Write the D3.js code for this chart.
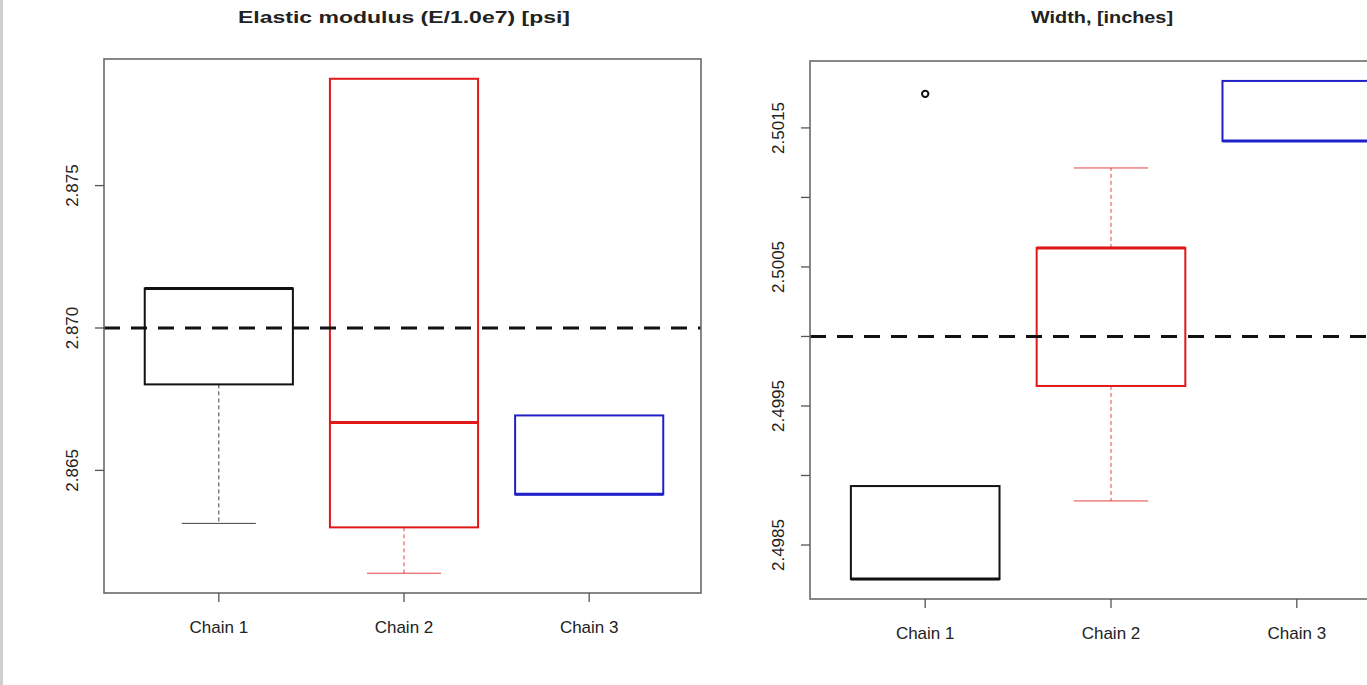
<!DOCTYPE html>
<html>
<head>
<meta charset="utf-8">
<script src="https://cdn.jsdelivr.net/npm/d3@7/dist/d3.min.js"></script>
<style>
  html, body { margin: 0; padding: 0; background: #ffffff; }
  svg { display: block; }
  text { font-family: "Liberation Sans", Arial, Helvetica, sans-serif; fill: #222; }
</style>
</head>
<body>
<svg id="chart" width="1367" height="685"></svg>
<script>
// ---- Data ----
const chains = ["Chain 1", "Chain 2", "Chain 3"];
const chainColors = ["#111111", "#e01818", "#2020c8"];

// Elastic modulus (E/1.0e7) [psi]
const modulusLow    = [2.86314, 2.86139, 2.86416];
const modulusQ1     = [2.86802, 2.86300, 2.86416];
const modulusMedian = [2.87139, 2.86668, 2.86416];
const modulusQ3     = [2.87139, 2.87875, 2.86693];
const modulusHigh   = [2.87139, 2.87875, 2.86693];
const modulusOutlierChain = [];
const modulusOutlierValue = [];
const modulusRef = 2.870;
const modulusTicks = [2.865, 2.870, 2.875];
const modulusTickLabels = ["2.865", "2.870", "2.875"];

// Width, [inches]
const widthLow    = [2.498255, 2.498817, 2.501406];
const widthQ1     = [2.498255, 2.499644, 2.501406];
const widthMedian = [2.498255, 2.500637, 2.501406];
const widthQ3     = [2.498924, 2.500637, 2.501838];
const widthHigh   = [2.498924, 2.501212, 2.501838];
const widthOutlierChain = ["Chain 1"];
const widthOutlierValue = [2.501745];
const widthRef = 2.5000;
const widthTicks = [2.4985, 2.4990, 2.4995, 2.5000, 2.5005, 2.5010, 2.5015];
const widthTickLabels = ["2.4985", "", "2.4995", "", "2.5005", "", "2.5015"];

const svg = d3.select("#chart");

// faint frame line at far left
svg.append("line").attr("x1", 1.5).attr("x2", 1.5).attr("y1", 0).attr("y2", 685)
  .attr("stroke", "#cfcfcf").attr("stroke-width", 3);

function panel(opts) {
  const { left, right, xRight, top, bottom, title, titleX, titleLen, low, q1, med, q3, high,
          outChain, outVal, ref, ticks, tickLabels } = opts;
  const g = svg.append("g");

  // x: R-style positions 1..n, xlim (0.5, n+0.5) extended by 4%
  const n = chains.length;
  const xr = n;
  const x = d3.scaleLinear()
    .domain([0.5 - 0.04 * xr, n + 0.5 + 0.04 * xr])
    .range([left, xRight]);

  // y: data extent padded by 4%
  const all = [].concat(low, high, outVal);
  const lo = d3.min(all), hi = d3.max(all);
  const pad = (hi - lo) * 0.04;
  const y = d3.scaleLinear().domain([lo - pad, hi + pad]).range([bottom, top]);

  const boxW = (x(1.4) - x(1));
  const capW = boxW * 0.5;

  chains.forEach((c, i) => {
    const cx = x(i + 1);
    const col = chainColors[i];
    if (low[i] < q1[i]) {
      g.append("line").attr("x1", cx).attr("x2", cx)
        .attr("y1", y(q1[i])).attr("y2", y(low[i]))
        .attr("stroke", col).attr("stroke-width", 1).attr("stroke-dasharray", "4,3").attr("opacity", 0.8);
      g.append("line").attr("x1", cx - capW).attr("x2", cx + capW)
        .attr("y1", y(low[i])).attr("y2", y(low[i]))
        .attr("stroke", col).attr("stroke-width", 1).attr("opacity", 0.8);
    }
    if (high[i] > q3[i]) {
      g.append("line").attr("x1", cx).attr("x2", cx)
        .attr("y1", y(q3[i])).attr("y2", y(high[i]))
        .attr("stroke", col).attr("stroke-width", 1).attr("stroke-dasharray", "4,3").attr("opacity", 0.8);
      g.append("line").attr("x1", cx - capW).attr("x2", cx + capW)
        .attr("y1", y(high[i])).attr("y2", y(high[i]))
        .attr("stroke", col).attr("stroke-width", 1).attr("opacity", 0.8);
    }
    g.append("rect")
      .attr("x", cx - boxW).attr("width", 2 * boxW)
      .attr("y", y(q3[i])).attr("height", y(q1[i]) - y(q3[i]))
      .attr("fill", "none").attr("stroke", col).attr("stroke-width", 2);
    g.append("line").attr("x1", cx - boxW).attr("x2", cx + boxW)
      .attr("y1", y(med[i])).attr("y2", y(med[i]))
      .attr("stroke", col).attr("stroke-width", 3);
  });

  outChain.forEach((c, k) => {
    const i = chains.indexOf(c);
    g.append("circle").attr("cx", x(i + 1)).attr("cy", y(outVal[k])).attr("r", 3.2)
      .attr("fill", "none").attr("stroke", chainColors[i]).attr("stroke-width", 2);
  });

  g.append("line").attr("x1", left).attr("x2", right)
    .attr("y1", y(ref)).attr("y2", y(ref))
    .attr("stroke", "#111").attr("stroke-width", 3).attr("stroke-dasharray", "16,11");

  g.append("rect").attr("x", left).attr("y", top)
    .attr("width", right - left).attr("height", bottom - top)
    .attr("fill", "none").attr("stroke", "#6a6a6a").attr("stroke-width", 1.6);

  ticks.forEach((t, k) => {
    g.append("line").attr("x1", left - 9).attr("x2", left)
      .attr("y1", y(t)).attr("y2", y(t))
      .attr("stroke", "#555").attr("stroke-width", 1.3);
    if (tickLabels[k]) {
      g.append("text")
        .attr("transform", `translate(${left - 32},${y(t)}) rotate(-90)`)
        .attr("text-anchor", "middle").attr("dominant-baseline", "central")
        .attr("font-size", 17).attr("fill", "#333")
        .text(tickLabels[k]);
    }
  });

  chains.forEach((c, i) => {
    g.append("line").attr("x1", x(i + 1)).attr("x2", x(i + 1))
      .attr("y1", bottom).attr("y2", bottom + 9)
      .attr("stroke", "#555").attr("stroke-width", 1.3);
    g.append("text").attr("x", x(i + 1)).attr("y", bottom + 34)
      .attr("text-anchor", "middle").attr("dominant-baseline", "central")
      .attr("font-size", 17).attr("fill", "#333").text(c);
  });

  g.append("text").attr("x", titleX).attr("y", 17)
    .attr("text-anchor", "middle").attr("dominant-baseline", "central")
    .attr("font-size", 16).attr("font-weight", "bold").attr("fill", "#222")
    .attr("textLength", titleLen).attr("lengthAdjust", "spacingAndGlyphs")
    .text(title);
}

panel({
  left: 104, right: 701, xRight: 704, top: 59, bottom: 593,
  title: "Elastic modulus (E/1.0e7) [psi]", titleX: 404, titleLen: 332,
  low: modulusLow, q1: modulusQ1, med: modulusMedian, q3: modulusQ3, high: modulusHigh,
  outChain: modulusOutlierChain, outVal: modulusOutlierValue,
  ref: modulusRef, ticks: modulusTicks, tickLabels: modulusTickLabels
});

panel({
  left: 810, right: 1412, xRight: 1412, top: 61, bottom: 599,
  title: "Width, [inches]", titleX: 1102, titleLen: 142,
  low: widthLow, q1: widthQ1, med: widthMedian, q3: widthQ3, high: widthHigh,
  outChain: widthOutlierChain, outVal: widthOutlierValue,
  ref: widthRef, ticks: widthTicks, tickLabels: widthTickLabels
});
</script>
</body>
</html>
